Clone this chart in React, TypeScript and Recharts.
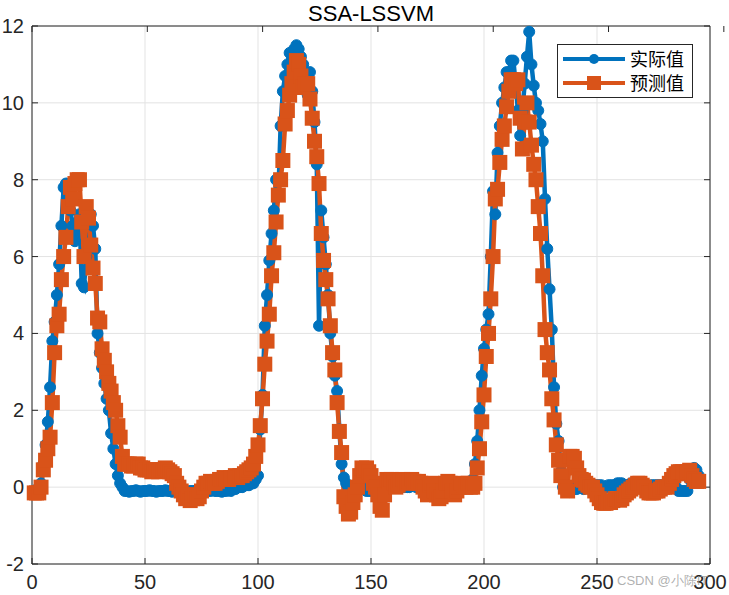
import React from 'react';
import { LineChart, Line, XAxis, YAxis, CartesianGrid, Legend } from 'recharts';

// 实际值 (blue) — one value per sample, samples 1..295
const actual = [
  -0.1, -0.1, 0.0, 0.1, 0.6, 1.1, 1.7, 2.6, 3.8, 4.3,
  5.0, 5.8, 6.8, 7.8, 7.9, 7.6, 7.2, 6.8, 6.4, 6.9,
  7.1, 5.3, 5.2, 6.0, 6.9, 7.1, 6.8, 6.2, 4.0, 3.5,
  3.1, 2.7, 2.3, 2.0, 1.4, 1.0, 0.6, 0.3, 0.1, 0.0,
  -0.1, -0.1, -0.12, -0.1, -0.1, -0.08, -0.1, -0.12, -0.1, -0.1,
  -0.1, -0.08, -0.1, -0.1, -0.12, -0.1, -0.1, -0.1, -0.08, -0.1,
  -0.1, -0.12, -0.1, -0.1, -0.1, -0.08, -0.1, -0.1, -0.12, -0.1,
  -0.1, -0.1, -0.08, -0.1, -0.1, -0.12, -0.1, -0.1, -0.1, -0.08,
  -0.1, -0.1, -0.1, -0.12, -0.1, -0.1, -0.08, -0.1, -0.05, -0.05,
  0.0, 0.0, 0.0, 0.05, 0.05, 0.05, 0.1, 0.1, 0.2, 0.3,
  1.5, 2.4, 4.2, 5.0, 5.9, 6.6, 7.2, 8.0, 7.6, 9.4,
  10.3, 10.7, 11.0, 11.3, 11.2, 11.4, 11.5, 11.4, 11.2, 11.0,
  10.7, 10.2, 10.8, 10.3, 9.5, 8.4, 4.2, 7.2, 6.5, 5.8,
  5.0, 4.0, 3.4, 2.9, 2.5, 1.5, 0.6, 0.25, 0.1, 0.0,
  -0.05, -0.1, -0.1, -0.05, 0.0, 0.0, -0.05, -0.1, -0.1, -0.1,
  -0.05, 0.0, 0.0, 0.0, -0.05, 0.0, 0.0, 0.05, 0.05, 0.0,
  0.0, 0.0, 0.05, 0.05, 0.0, 0.0, 0.0, 0.05, 0.05, 0.0,
  0.0, -0.05, -0.05, 0.0, 0.0, 0.0, 0.05, 0.0, 0.0, -0.05,
  -0.05, 0.0, 0.0, 0.05, 0.0, 0.0, -0.05, 0.0, 0.0, 0.0,
  0.05, 0.05, 0.0, 0.0, 0.2, 0.6, 1.2, 2.0, 2.9, 3.6,
  4.1, 4.5, 6.0, 7.7, 7.1, 8.7, 9.4, 10.0, 10.4, 10.8,
  10.8, 11.1, 11.1, 10.5, 9.8, 9.15, 9.8, 10.5, 11.2, 11.85,
  11.0, 10.45, 10.0, 9.8, 9.45, 9.0, 7.5, 6.2, 5.15, 4.1,
  2.6, 1.65, 1.2, 0.4, 0.0, -0.1, -0.05, 0.0, 0.0, -0.05,
  -0.05, 0.0, 0.0, -0.05, 0.0, 0.0, 0.0, 0.0, 0.05, 0.05,
  0.05, 0.05, 0.0, 0.0, 0.05, 0.05, 0.05, 0.05, 0.1, 0.1,
  0.1, 0.05, 0.05, 0.05, 0.1, 0.1, 0.1, 0.05, 0.05, 0.05,
  0.05, 0.0, 0.0, 0.05, 0.05, 0.05, 0.05, 0.05, 0.05, 0.0,
  0.0, 0.05, 0.05, 0.1, 0.0, -0.1, -0.1, -0.1, -0.1, -0.1,
  0.2, 0.4, 0.5, 0.45, 0.3,
];

// 预测值 (orange)
const predicted = [
  -0.15, -0.15, -0.15, 0.0, 0.45, 0.7, 1.0, 1.3, 2.2, 3.5,
  4.2, 4.5, 5.4, 6.0, 6.5, 7.3, 7.8, 7.5, 7.9, 8.0,
  8.0, 6.9, 6.0, 7.3, 7.0, 6.3, 5.7, 5.3, 4.4, 4.3,
  3.6, 3.3, 3.0, 2.7, 2.5, 2.2, 2.0, 1.6, 1.3, 0.8,
  0.6, 0.6, 0.6, 0.55, 0.55, 0.6, 0.6, 0.5, 0.5, 0.45,
  0.45, 0.45, 0.4, 0.45, 0.45, 0.4, 0.45, 0.45, 0.5, 0.45,
  0.4, 0.35, 0.3, 0.1, 0.0, -0.1, -0.2, -0.3, -0.2, -0.35,
  -0.3, -0.2, -0.3, -0.25, -0.1, 0.0, 0.1, 0.1, 0.15, 0.1,
  0.1, 0.15, 0.2, 0.2, 0.25, 0.2, 0.2, 0.25, 0.25, 0.3,
  0.25, 0.3, 0.3, 0.35, 0.4, 0.45, 0.5, 0.6, 0.8, 1.1,
  1.6, 2.3, 3.2, 3.8, 4.5, 5.5, 6.1, 6.9, 7.6, 8.0,
  8.5, 9.45, 9.8, 10.2, 10.5, 10.8, 11.1, 11.0, 10.7, 10.4,
  10.5, 10.5, 10.1, 9.6, 9.0, 8.6, 7.9, 6.6, 5.9, 5.4,
  4.9, 4.2, 3.5, 3.05, 2.2, 1.45, 0.9, -0.25, -0.5, -0.7,
  -0.65, -0.4, -0.2, 0.0, 0.3, 0.5, 0.45, 0.5, 0.4, 0.3,
  0.1, 0.0, -0.2, -0.5, -0.6, -0.2, 0.2, 0.15, 0.2, 0.1,
  0.0, 0.05, 0.15, 0.2, 0.15, 0.1, 0.15, 0.2, 0.15, 0.1,
  0.15, 0.1, 0.0, -0.1, -0.2, 0.05, 0.1, -0.1, -0.2, -0.3,
  -0.25, -0.1, 0.1, 0.15, 0.1, -0.1, -0.2, -0.1, 0.0, 0.1,
  0.05, 0.0, 0.1, 0.0, 0.0, 0.1, 0.5, 1.0, 1.7, 2.4,
  3.4, 4.0, 4.9, 6.0, 7.5, 7.75, 8.45, 9.05, 9.4, 9.9,
  10.3, 10.6, 10.6, 10.5, 10.6, 9.6, 8.8, 9.5, 10.0, 9.5,
  8.9, 8.4, 8.0, 7.3, 6.6, 5.5, 4.1, 3.5, 3.05, 2.3,
  1.75, 1.1, 0.7, 0.3, 0.7, 0.0, -0.1, 0.8, 0.8, 0.75,
  0.5, 0.3, 0.2, 0.18, 0.1, 0.05, 0.0, 0.0, -0.1, -0.2,
  -0.3, -0.4, -0.42, -0.42, -0.4, -0.4, -0.35, -0.3, -0.3, -0.34,
  -0.3, -0.2, -0.15, -0.1, -0.05, 0.0, 0.05, 0.1, 0.1, 0.05,
  0.0, -0.1, -0.15, -0.15, -0.15, -0.1, -0.1, -0.05, 0.0, 0.0,
  0.0, 0.1, 0.2, 0.3, 0.35, 0.4, 0.4, 0.4, 0.35, 0.4,
  0.44, 0.3, 0.2, 0.15, 0.15,
];

const xTicks = [0, 50, 100, 150, 200, 250, 300];
const yTicks = [-2, 0, 2, 4, 6, 8, 10, 12];
const seriesNames = ['实际值', '预测值'];

const BLUE = '#0072BD';
const ORANGE = '#D95319';
const AXIS = '#262626';
const FONT = '"Liberation Sans", Arial, sans-serif';
const CJK = '"Noto Sans CJK SC", sans-serif';

const data = actual.map((v, i) => ({ x: i + 1, actual: v, predicted: predicted[i] }));

const SquareDot = (props: any) => {
  const { cx, cy, index } = props;
  if (cx == null || cy == null) return <g key={index} />;
  return <rect key={index} x={cx - 7.5} y={cy - 7.5} width={15} height={15} fill={ORANGE} />;
};

const XTick = (props: any) => (
  <text x={props.x} y={589} textAnchor="middle" fontSize={20} fontFamily={FONT} fill={AXIS}>
    {props.payload.value}
  </text>
);

const YTick = (props: any) => (
  <text x={24} y={props.y} dy={7} textAnchor="end" fontSize={20} fontFamily={FONT} fill={AXIS}>
    {props.payload.value}
  </text>
);

const NoTick = () => <g />;

// legend box like matlab's, top right inside the axes
const LegendBox = () => (
  <svg width={136} height={54} style={{ display: 'block' }}>
    <rect x={0.5} y={0.5} width={135} height={53} fill="#fff" stroke={AXIS} strokeWidth={1} />
    <line x1={6} y1={15} x2={68} y2={15} stroke={BLUE} strokeWidth={4} />
    <circle cx={37} cy={15} r={5} fill={BLUE} />
    <text x={73} y={22} fontSize={18} fontFamily={CJK} fill="#000">{seriesNames[0]}</text>
    <line x1={6} y1={39} x2={68} y2={39} stroke={ORANGE} strokeWidth={4} />
    <rect x={30} y={32} width={14} height={14} fill={ORANGE} />
    <text x={73} y={46} fontSize={18} fontFamily={CJK} fill="#000">{seriesNames[1]}</text>
  </svg>
);

const App: React.FC = () => {
  return (
    <div style={{ position: 'absolute', left: 0, top: 0, width: 729, height: 595, background: '#fff' }}>
      <div style={{
        position: 'absolute', left: 33, top: 1, width: 676, textAlign: 'center',
        fontFamily: FONT, fontSize: 22, lineHeight: '26px', color: '#000', zIndex: 2,
      }}>
        SSA-LSSVM
      </div>
      <LineChart width={729} height={595} data={data} margin={{ top: 26, right: 19, bottom: 31, left: 32 }}>
        <CartesianGrid stroke="#e3e3e3" strokeWidth={1} />
        <XAxis
          dataKey="x" type="number" domain={[0, 300]} ticks={xTicks} interval={0}
          orientation="bottom" mirror height={1} tickSize={6}
          axisLine={{ stroke: AXIS }} tickLine={{ stroke: AXIS }} tick={XTick}
        />
        <XAxis
          xAxisId="top" type="number" domain={[0, 300]} ticks={xTicks} interval={0} allowDataOverflow
          orientation="top" mirror height={1} tickSize={6}
          axisLine={{ stroke: AXIS }} tickLine={{ stroke: AXIS }} tick={NoTick}
        />
        <YAxis
          type="number" domain={[-2, 12]} ticks={yTicks} interval={0}
          orientation="left" mirror width={1} tickSize={6}
          axisLine={{ stroke: AXIS }} tickLine={{ stroke: AXIS }} tick={YTick}
        />
        <YAxis
          yAxisId="right" type="number" domain={[-2, 12]} ticks={yTicks} interval={0} allowDataOverflow
          orientation="right" mirror width={1} tickSize={6}
          axisLine={{ stroke: AXIS }} tickLine={{ stroke: AXIS }} tick={NoTick}
        />
        <Line
          type="linear" dataKey="actual" name={seriesNames[0]} stroke={BLUE} strokeWidth={4.5}
          dot={{ r: 5.5, fill: BLUE, stroke: BLUE, strokeWidth: 1 }} activeDot={false}
          isAnimationActive={false}
        />
        <Line
          type="linear" dataKey="predicted" name={seriesNames[1]} stroke={ORANGE} strokeWidth={4.5}
          dot={SquareDot} activeDot={false}
          isAnimationActive={false}
        />
        <Legend
          layout="horizontal" verticalAlign="middle" align="center"
          content={LegendBox}
          wrapperStyle={{ left: 557, top: 44, width: 136, height: 54 }}
        />
      </LineChart>
      <div style={{
        position: 'absolute', left: 617, top: 572, fontFamily: FONT, fontSize: 13,
        color: 'rgba(150,150,150,0.75)', whiteSpace: 'nowrap',
      }}>
        CSDN @小陈IT
      </div>
    </div>
  );
};

export default App;
